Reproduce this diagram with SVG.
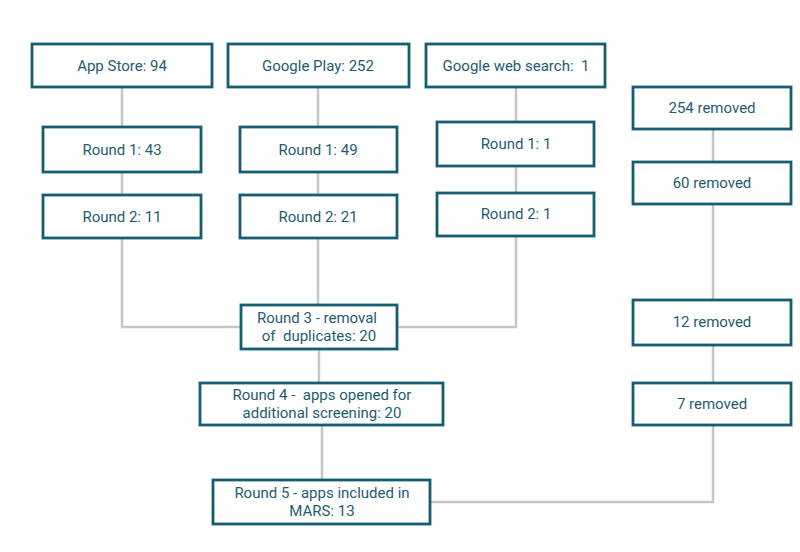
<svg xmlns="http://www.w3.org/2000/svg" width="800" height="552" viewBox="0 0 800 552">
<style>
.box{fill:#fff;stroke:#145e74;stroke-width:2.8}
.t{font-family:Roboto,"Liberation Sans",sans-serif;font-size:15px;fill:#1d5d70;text-anchor:middle;white-space:pre}
.c{fill:none;stroke:#c6c6c6;stroke-width:2.5}
</style>
<rect width="800" height="552" fill="#fff"/>
<g id="connectors">
<path class="c" d="M122 87V127M122 172V195M122 238V327H241"/>
<path class="c" d="M318 87V127M318 172V195M318 238V305"/>
<path class="c" d="M516 87V122M516 166V193M516 236V327H397"/>
<path class="c" d="M319 349V383M322 425V480"/>
<path class="c" d="M713 129V162M713 204V300M713 345V383M713 425V502H430"/>
</g>
<g id="appstore"><rect class="box" x="32" y="44" width="180" height="43"/><text class="t" x="122" y="71">App Store: 94</text></g>
<g id="googleplay"><rect class="box" x="228" y="44" width="181" height="43"/><text class="t" x="318" y="71">Google Play: 252</text></g>
<g id="websearch"><rect class="box" x="426" y="44" width="179" height="43"/><text class="t" x="516" y="71">Google web search:  1</text></g>
<g id="as_r1"><rect class="box" x="43" y="127" width="158" height="45"/><text class="t" x="122" y="155">Round 1: 43</text></g>
<g id="gp_r1"><rect class="box" x="240" y="127" width="157" height="45"/><text class="t" x="318" y="155">Round 1: 49</text></g>
<g id="ws_r1"><rect class="box" x="437" y="122" width="157" height="44"/><text class="t" x="516" y="149">Round 1: 1</text></g>
<g id="as_r2"><rect class="box" x="43" y="195" width="158" height="43"/><text class="t" x="122" y="222">Round 2: 11</text></g>
<g id="gp_r2"><rect class="box" x="240" y="195" width="157" height="43"/><text class="t" x="318" y="222">Round 2: 21</text></g>
<g id="ws_r2"><rect class="box" x="437" y="193" width="157" height="43"/><text class="t" x="516" y="219">Round 2: 1</text></g>
<g id="rm254"><rect class="box" x="633" y="87" width="158" height="42"/><text class="t" x="712" y="113">254 removed</text></g>
<g id="rm60"><rect class="box" x="633" y="162" width="158" height="42"/><text class="t" x="712" y="188">60 removed</text></g>
<g id="rm12"><rect class="box" x="633" y="300" width="158" height="45"/><text class="t" x="712" y="327">12 removed</text></g>
<g id="rm7"><rect class="box" x="633" y="383" width="158" height="42"/><text class="t" x="712" y="409">7 removed</text></g>
<g id="round3"><rect class="box" x="241" y="305" width="156" height="44"/><text class="t" x="317" y="323">Round 3 - removal</text><text class="t" x="319" y="341">of  duplicates: 20</text></g>
<g id="round4"><rect class="box" x="200" y="383" width="243" height="42"/><text class="t" x="322" y="400">Round 4 -  apps opened for</text><text class="t" x="322" y="418">additional screening: 20</text></g>
<g id="round5"><rect class="box" x="213" y="480" width="217" height="44"/><text class="t" x="322" y="498">Round 5 - apps included in</text><text class="t" x="322" y="516">MARS: 13</text></g>
</svg>
